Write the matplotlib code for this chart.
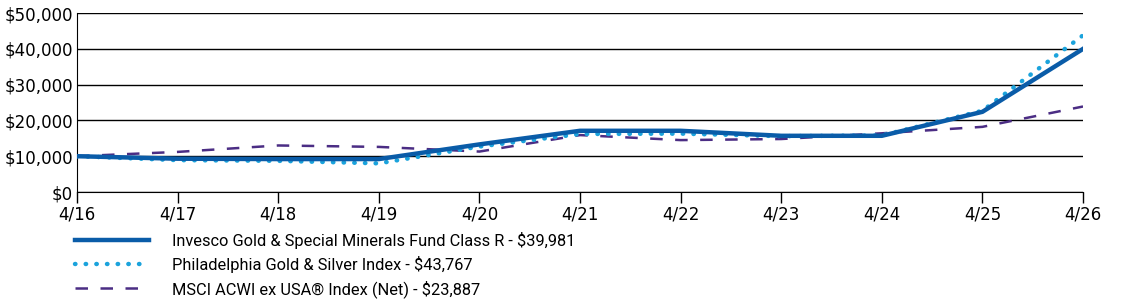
import matplotlib
matplotlib.use('Agg')
import matplotlib.pyplot as plt
from matplotlib.ticker import FuncFormatter

# 年份标签
years = ["4/16", "4/17", "4/18", "4/19", "4/20", "4/21", "4/22", "4/23", "4/24", "4/25", "4/26"]

# 各序列数值
fund = [10000, 9300, 9200, 9200, 13300, 17100, 17100, 15700, 15700, 22400, 39981]
phlx = [10000, 8900, 8700, 8000, 12700, 16200, 16300, 15600, 15800, 22700, 43767]
msci = [10000, 11200, 13000, 12600, 11300, 15900, 14500, 14800, 16400, 18200, 23887]

fund_label = "Invesco Gold & Special Minerals Fund Class R - $39,981"
phlx_label = "Philadelphia Gold & Silver Index - $43,767"
msci_label = "MSCI ACWI ex USA® Index (Net) - $23,887"

fig = plt.figure(figsize=(11.23, 3.04), dpi=100)
ax = fig.add_axes([0.0686, 0.3684, 0.8958, 0.5888])

x = list(range(len(years)))

ax.plot(x, msci, color='#4B2D84', lw=1.8, linestyle=(0, (5, 5)), label=msci_label, zorder=3)
ax.plot(x, phlx, color='#1BA3DC', lw=3.2, linestyle=(0, (0.1, 2.3)),
        dash_capstyle='round', label=phlx_label, zorder=4)
ax.plot(x, fund, color='#0A5CA8', lw=3.2, label=fund_label, zorder=5)

ax.set_xlim(0, len(years) - 1)
ax.set_ylim(0, 50000)
ax.set_yticks(range(0, 50001, 10000))
ax.yaxis.set_major_formatter(FuncFormatter(lambda v, p: f"${int(v):,}"))
ax.set_xticks(x)
ax.set_xticklabels(years)

ax.grid(axis='y', color='black', lw=1)
ax.set_axisbelow(True)
for s in ['top', 'right']:
    ax.spines[s].set_visible(False)
ax.spines['left'].set_color('black')
ax.spines['bottom'].set_color('black')
ax.tick_params(axis='x', length=8, width=1, direction='out', labelsize=12, pad=2)
ax.tick_params(axis='y', length=0, labelsize=12, pad=3)

handles, labels = ax.get_legend_handles_labels()
order = [2, 1, 0]
leg = fig.legend([handles[i] for i in order], [labels[i] for i in order],
                 loc='upper left', bbox_to_anchor=(0.061, 0.258), frameon=False,
                 prop={'family': 'Roboto', 'size': 11.8}, handlelength=4.5,
                 handletextpad=1.4, labelspacing=0.42, borderaxespad=0)

fig.savefig('out.png', dpi=100)
